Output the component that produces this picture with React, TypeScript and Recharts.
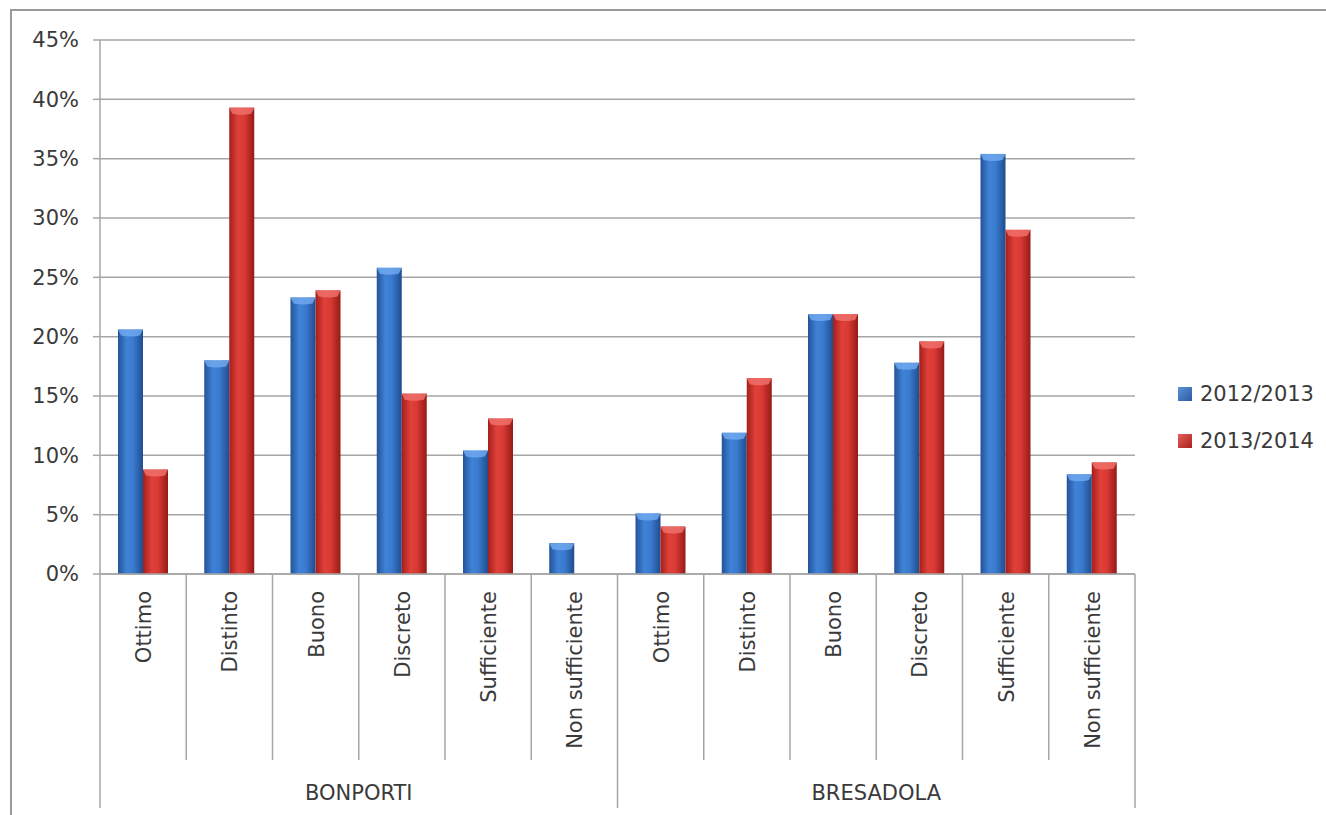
import { BarChart, Bar, XAxis, YAxis, CartesianGrid, Legend } from "recharts";

const categories = ["Ottimo", "Distinto", "Buono", "Discreto", "Sufficiente", "Non sufficiente"];
const groups = ["BONPORTI", "BRESADOLA"];
const values2012 = [20.6, 18.0, 23.3, 25.8, 10.4, 2.6, 5.1, 11.9, 21.9, 17.8, 35.4, 8.4];
const values2013 = [8.8, 39.3, 23.9, 15.2, 13.1, 0, 4.0, 16.5, 21.9, 19.6, 29.0, 9.4];
const yTicks = [0, 5, 10, 15, 20, 25, 30, 35, 40, 45];
const seriesNames = ["2012/2013", "2013/2014"];

const data = groups.flatMap((g, gi) =>
  categories.map((c, ci) => ({
    key: `${g}-${c}`,
    group: g,
    cat: c,
    a: values2012[gi * categories.length + ci],
    b: values2013[gi * categories.length + ci],
  }))
);

const FONT = "'DejaVu Sans', sans-serif";
const TEXT = "#3a3a3a";
const LINE = "#a6a6a6";

const CategoryTick = (props: any) => {
  const { x, y, payload, index, width, visibleTicksCount } = props;
  const bw = payload?.offset ? payload.offset * 2 : width / visibleTicksCount;
  const row = data[index];
  const first = index % categories.length === 0;
  const last = index === data.length - 1;
  return (
    <g>
      <line x1={x - bw / 2} x2={x - bw / 2} y1={y} y2={first ? y + 234 : y + 186} stroke={LINE} strokeWidth={1.5} />
      {last && <line x1={x + bw / 2} x2={x + bw / 2} y1={y} y2={y + 234} stroke={LINE} strokeWidth={1.5} />}
      <text
        x={x + 8}
        y={y + 17}
        transform={`rotate(-90, ${x + 8}, ${y + 17})`}
        textAnchor="end"
        fontSize={21}
        fontFamily={FONT}
        fill={TEXT}
      >
        {row.cat}
      </text>
      {first && (
        <text x={x - bw / 2 + bw * 3} y={y + 226} textAnchor="middle" fontSize={21} fontFamily={FONT} fill={TEXT}>
          {row.group}
        </text>
      )}
    </g>
  );
};

// cylinder-ish bar: shaded body plus a lighter cap at the top
const makeShape = (body: string, cap: string) => (props: any) => {
  const { x, y, width, height } = props;
  if (!height || height <= 0) return null;
  const capH = Math.min(6, height);
  return (
    <g>
      <rect x={x} y={y} width={width} height={height} fill={body} />
      <path
        d={`M${x},${y} L${x + width},${y} L${x + width - 3},${y + capH} Q${x + width / 2},${y + capH + 2} ${x + 3},${y + capH} Z`}
        fill={cap}
        opacity={0.85}
      />
    </g>
  );
};

const BlueShape = makeShape("url(#gBlue)", "#6fa8ee");
const RedShape = makeShape("url(#gRed)", "#f0706a");

const LegendBox = () => (
  <div style={{ paddingLeft: 43, fontFamily: FONT, fontSize: 21, color: TEXT }}>
    {seriesNames.map((n, i) => (
      <div key={n} style={{ display: "flex", alignItems: "center", height: 47 }}>
        <span
          style={{
            width: 14,
            height: 14,
            marginRight: 8,
            display: "inline-block",
            background: i === 0 ? "linear-gradient(135deg,#5b93d8,#2a5aa3)" : "linear-gradient(135deg,#e5605a,#a8201c)",
          }}
        />
        {n}
      </div>
    ))}
  </div>
);

export default function App() {
  return (
    <div style={{ position: "absolute", left: 0, top: 0, width: 1326, height: 815, background: "#fff", overflow: "hidden" }}>
      <div
        style={{
          position: "absolute",
          left: 10,
          top: 9,
          width: 1330,
          height: 820,
          borderLeft: "2px solid #9a9a9a",
          borderTop: "2px solid #9a9a9a",
        }}
      />
      <BarChart
        width={1326}
        height={815}
        data={data}
        margin={{ top: 40, right: 0, left: 10, bottom: 0 }}
        barSize={25}
        barGap={0}
        style={{ position: "absolute", left: 0, top: 0 }}
      >
        <defs>
          <linearGradient id="gBlue" x1="0" y1="0" x2="1" y2="0">
            <stop offset="0%" stopColor="#23539a" />
            <stop offset="35%" stopColor="#3f82d6" />
            <stop offset="60%" stopColor="#3a7bd0" />
            <stop offset="100%" stopColor="#1f4d8f" />
          </linearGradient>
          <linearGradient id="gRed" x1="0" y1="0" x2="1" y2="0">
            <stop offset="0%" stopColor="#a31f1b" />
            <stop offset="35%" stopColor="#e0403a" />
            <stop offset="60%" stopColor="#d93a34" />
            <stop offset="100%" stopColor="#961a17" />
          </linearGradient>
        </defs>
        <CartesianGrid vertical={false} stroke={LINE} strokeWidth={1.5} />
        <XAxis
          dataKey="key"
          height={241}
          interval={0}
          tickSize={0}
          tickMargin={0}
          tickLine={false}
          axisLine={{ stroke: LINE, strokeWidth: 1.5 }}
          tick={<CategoryTick />}
        />
        <YAxis
          width={90}
          domain={[0, 45]}
          ticks={yTicks}
          interval={0}
          tickSize={7}
          tickMargin={14}
          tickLine={{ stroke: LINE, strokeWidth: 1.5 }}
          axisLine={{ stroke: LINE, strokeWidth: 1.5 }}
          tickFormatter={(v) => `${v}%`}
          tick={{ fontSize: 21, fontFamily: FONT, fill: TEXT }}
        />
        <Legend
          layout="vertical"
          align="right"
          verticalAlign="middle"
          content={<LegendBox />}
          wrapperStyle={{ width: 191, right: 0, top: 370 }}
        />
        <Bar dataKey="a" name={seriesNames[0]} fill="#3a7bd0" shape={BlueShape} isAnimationActive={false} />
        <Bar dataKey="b" name={seriesNames[1]} fill="#d93a34" shape={RedShape} isAnimationActive={false} />
      </BarChart>
    </div>
  );
}
